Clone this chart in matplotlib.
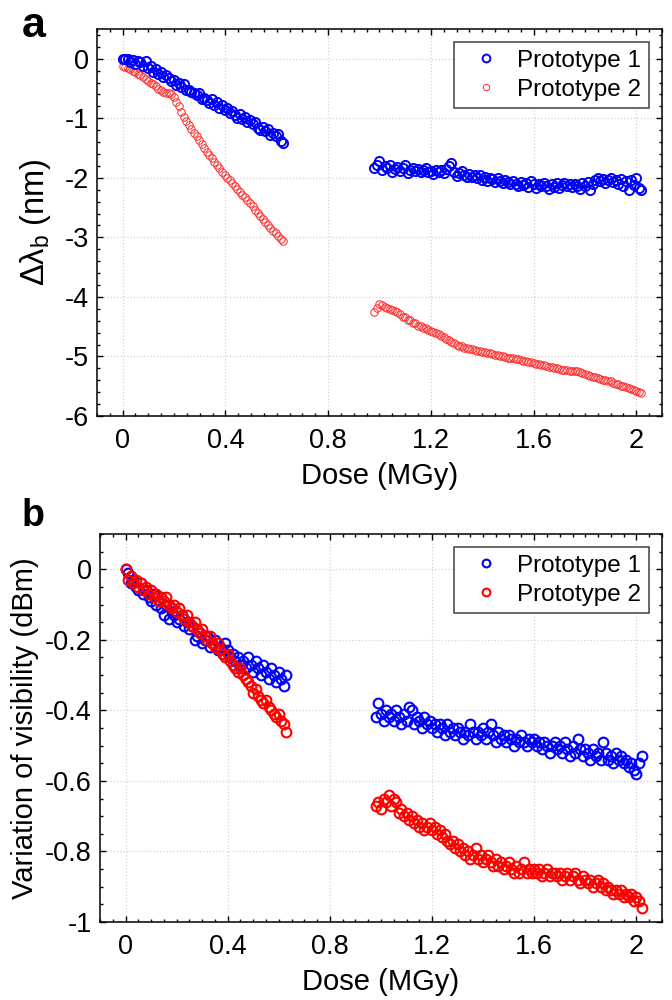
import numpy as np
import matplotlib
matplotlib.use("Agg")
import matplotlib.pyplot as plt
from matplotlib.ticker import MultipleLocator, FuncFormatter

plt.rcParams['font.family'] = ['Liberation Sans', 'DejaVu Sans']
plt.rcParams['axes.unicode_minus'] = False
plt.rcParams['mathtext.fontset'] = 'custom'
plt.rcParams['mathtext.rm'] = 'Liberation Sans'
plt.rcParams['mathtext.it'] = 'Liberation Sans'

# dose sampling (MGy): first campaign and second campaign
dose_early_a = np.linspace(0, 0.625, 64)
dose_early_b = np.linspace(0, 0.63, 64)
dose_late = np.linspace(0.98, 2.02, 105)

# panel a: Bragg wavelength shift (nm)
shift_p1_early = [0.00, -0.01, 0.00, -0.05, -0.02, -0.08, -0.03, -0.06, -0.12, -0.04,
                  -0.16, -0.12, -0.22, -0.18, -0.26, -0.22, -0.30, -0.27, -0.32, -0.38,
                  -0.36, -0.44, -0.40, -0.47, -0.43, -0.52, -0.53, -0.55, -0.58, -0.61,
                  -0.58, -0.67, -0.66, -0.70, -0.74, -0.68, -0.77, -0.72, -0.82, -0.78,
                  -0.86, -0.83, -0.91, -0.88, -0.95, -0.99, -0.93, -1.02, -0.98, -1.06,
                  -1.03, -1.10, -1.07, -1.16, -1.20, -1.15, -1.22, -1.18, -1.28, -1.24,
                  -1.30, -1.27, -1.38, -1.42]
shift_p2_early = [-0.12, -0.14, -0.15, -0.18, -0.20, -0.23, -0.26, -0.28, -0.31, -0.34,
                  -0.37, -0.40, -0.43, -0.46, -0.50, -0.53, -0.56, -0.57, -0.58, -0.60,
                  -0.65, -0.72, -0.80, -0.89, -0.98, -1.05, -1.11, -1.18, -1.24, -1.30,
                  -1.36, -1.43, -1.50, -1.56, -1.62, -1.67, -1.73, -1.79, -1.84, -1.90,
                  -1.95, -2.00, -2.04, -2.09, -2.14, -2.18, -2.23, -2.28, -2.33, -2.38,
                  -2.43, -2.48, -2.54, -2.59, -2.64, -2.69, -2.74, -2.79, -2.84, -2.89,
                  -2.93, -2.98, -3.03, -3.06]
shift_p1_late = [-1.84, -1.78, -1.72, -1.86, -1.80, -1.83, -1.78, -1.90, -1.85, -1.81,
                 -1.88, -1.84, -1.79, -1.92, -1.86, -1.83, -1.89, -1.85, -1.91, -1.87,
                 -1.84, -1.90, -1.88, -1.93, -1.86, -1.90, -1.87, -1.92, -1.85, -1.80,
                 -1.75, -1.90, -1.97, -1.92, -1.88, -1.95, -1.99, -1.93, -1.98, -1.95,
                 -2.01, -1.96, -2.03, -1.98, -2.05, -2.00, -2.02, -2.07, -2.01, -2.05,
                 -2.09, -2.03, -2.07, -2.11, -2.05, -2.10, -2.14, -2.07, -2.12, -2.09,
                 -2.15, -2.06, -2.11, -2.17, -2.10, -2.14, -2.08, -2.13, -2.18, -2.11,
                 -2.15, -2.09, -2.17, -2.12, -2.08, -2.14, -2.11, -2.16, -2.10, -2.13,
                 -2.19, -2.09, -2.14, -2.07, -2.20, -2.11, -2.04, -2.00, -2.06, -2.02,
                 -2.08, -2.04, -2.01, -2.07, -2.03, -2.10, -2.02, -2.14, -2.05, -2.20,
                 -2.03, -2.12, -2.01, -2.17, -2.21]
shift_p2_late = [-4.25, -4.18, -4.12, -4.14, -4.17, -4.18, -4.20, -4.22, -4.24, -4.26,
                 -4.29, -4.33, -4.34, -4.38, -4.39, -4.44, -4.44, -4.48, -4.48, -4.52,
                 -4.53, -4.55, -4.57, -4.59, -4.61, -4.63, -4.66, -4.68, -4.70, -4.73,
                 -4.76, -4.78, -4.80, -4.82, -4.83, -4.85, -4.86, -4.87, -4.88, -4.89,
                 -4.90, -4.91, -4.92, -4.93, -4.94, -4.95, -4.96, -4.97, -4.98, -4.99,
                 -5.00, -5.01, -5.02, -5.02, -5.03, -5.04, -5.05, -5.06, -5.07, -5.08,
                 -5.09, -5.10, -5.11, -5.12, -5.13, -5.14, -5.15, -5.16, -5.17, -5.18,
                 -5.19, -5.20, -5.21, -5.22, -5.23, -5.23, -5.24, -5.24, -5.25, -5.25,
                 -5.26, -5.28, -5.30, -5.31, -5.33, -5.34, -5.35, -5.36, -5.38, -5.39,
                 -5.40, -5.41, -5.42, -5.44, -5.46, -5.47, -5.49, -5.50, -5.52, -5.53,
                 -5.55, -5.56, -5.58, -5.59, -5.61]

# panel b: variation of visibility (dBm)
vis_p1_early = [0.00, -0.01, -0.04, -0.03, -0.05, -0.06, -0.04, -0.07, -0.06, -0.08,
                -0.09, -0.07, -0.10, -0.09, -0.11, -0.13, -0.10, -0.14, -0.12, -0.13,
                -0.15, -0.14, -0.13, -0.16, -0.15, -0.17, -0.16, -0.20, -0.19, -0.18,
                -0.21, -0.20, -0.19, -0.22, -0.21, -0.20, -0.23, -0.22, -0.24, -0.21,
                -0.23, -0.25, -0.24, -0.26, -0.25, -0.27, -0.26, -0.28, -0.25, -0.27,
                -0.29, -0.26, -0.28, -0.30, -0.27, -0.29, -0.31, -0.28, -0.30, -0.32,
                -0.29, -0.31, -0.33, -0.30]
vis_p2_early = [0.00, -0.03, -0.02, -0.04, -0.03, -0.05, -0.04, -0.06, -0.05, -0.07,
                -0.06, -0.08, -0.07, -0.09, -0.08, -0.09, -0.08, -0.10, -0.11, -0.10,
                -0.12, -0.11, -0.13, -0.14, -0.13, -0.15, -0.16, -0.15, -0.17, -0.18,
                -0.17, -0.19, -0.20, -0.19, -0.21, -0.22, -0.21, -0.23, -0.24, -0.25,
                -0.24, -0.26, -0.27, -0.28, -0.29, -0.28, -0.30, -0.31, -0.32, -0.33,
                -0.35, -0.34, -0.36, -0.37, -0.38, -0.37, -0.39, -0.40, -0.41, -0.42,
                -0.41, -0.43, -0.44, -0.46]
vis_p1_late = [-0.42, -0.38, -0.41, -0.43, -0.40, -0.42, -0.41, -0.43, -0.40, -0.42,
               -0.44, -0.41, -0.43, -0.39, -0.40, -0.44, -0.42, -0.43, -0.45, -0.42,
               -0.44, -0.43, -0.45, -0.44, -0.46, -0.44, -0.45, -0.47, -0.44, -0.46,
               -0.45, -0.47, -0.45, -0.46, -0.48, -0.46, -0.47, -0.44, -0.46, -0.48,
               -0.46, -0.47, -0.45, -0.48, -0.46, -0.44, -0.47, -0.49, -0.46, -0.48,
               -0.47, -0.49, -0.47, -0.48, -0.50, -0.48, -0.49, -0.47, -0.49, -0.50,
               -0.48, -0.49, -0.48, -0.50, -0.49, -0.51, -0.49, -0.50, -0.52, -0.50,
               -0.49, -0.51, -0.50, -0.52, -0.49, -0.51, -0.53, -0.50, -0.52, -0.48,
               -0.51, -0.53, -0.51, -0.52, -0.54, -0.51, -0.53, -0.52, -0.54, -0.49,
               -0.52, -0.54, -0.53, -0.55, -0.52, -0.54, -0.53, -0.55, -0.54, -0.56,
               -0.55, -0.57, -0.58, -0.55, -0.53]
vis_p2_late = [-0.67, -0.66, -0.68, -0.65, -0.66, -0.64, -0.67, -0.65, -0.66, -0.69,
               -0.68, -0.70, -0.69, -0.71, -0.70, -0.72, -0.71, -0.73, -0.72, -0.74,
               -0.73, -0.72, -0.74, -0.73, -0.75, -0.74, -0.76, -0.75, -0.77, -0.78,
               -0.77, -0.79, -0.78, -0.80, -0.79, -0.81, -0.80, -0.82, -0.81, -0.79,
               -0.82, -0.81, -0.83, -0.82, -0.81, -0.83, -0.84, -0.82, -0.84, -0.83,
               -0.85, -0.84, -0.83, -0.85, -0.86, -0.84, -0.86, -0.85, -0.83, -0.86,
               -0.85, -0.86, -0.85, -0.86, -0.85, -0.87, -0.86, -0.85, -0.87, -0.86,
               -0.86, -0.87, -0.86, -0.88, -0.87, -0.86, -0.88, -0.87, -0.86, -0.88,
               -0.89, -0.87, -0.88, -0.89, -0.88, -0.90, -0.89, -0.88, -0.90, -0.89,
               -0.91, -0.90, -0.91, -0.92, -0.91, -0.92, -0.91, -0.93, -0.92, -0.93,
               -0.92, -0.94, -0.93, -0.94, -0.96]

labels = ['Prototype 1', 'Prototype 2']
blue = '#0000ff'
red_a = '#ff2a2a'
red_b = '#ff0000'


def tick_fmt(v, pos):
    v = round(v, 6)
    if v == 0:
        return '0'
    return '%g' % v


def style_axes(ax, ylim, ymajor, yminor, ylabel, ylab_x, ylab_size):
    ax.set_xlim(-0.1, 2.1)
    ax.set_ylim(*ylim)
    ax.xaxis.set_major_locator(MultipleLocator(0.4))
    ax.xaxis.set_minor_locator(MultipleLocator(0.05))
    ax.yaxis.set_major_locator(MultipleLocator(ymajor))
    ax.yaxis.set_minor_locator(MultipleLocator(yminor))
    ax.xaxis.set_major_formatter(FuncFormatter(tick_fmt))
    ax.yaxis.set_major_formatter(FuncFormatter(tick_fmt))
    ax.tick_params(which='both', direction='in', top=True, right=True, width=1.0)
    ax.tick_params(which='major', length=4.5, labelsize=19.5)
    ax.tick_params(which='minor', length=2.5)
    ax.tick_params(axis='x', pad=9)
    ax.tick_params(axis='y', pad=6)
    for s in ax.spines.values():
        s.set_linewidth(1.1)
    ax.grid(True, which='major', linestyle=':', color='#d4d4d4', linewidth=0.9)
    ax.set_axisbelow(True)
    ax.set_xlabel('Dose (MGy)', fontsize=21)
    ax.xaxis.set_label_coords(0.5, -0.118)
    ax.set_ylabel(ylabel, fontsize=ylab_size)
    ax.yaxis.set_label_coords(ylab_x, 0.5)


fig = plt.figure(figsize=(6.72, 10), dpi=100)

# ---- panel a
ax1 = fig.add_axes([0.1443, 0.584, 0.8408, 0.387])
h2, = ax1.plot(dose_early_a, shift_p2_early, 'o', mfc='none', mec=red_a, ms=5.4, mew=0.7)
ax1.plot(dose_late, shift_p2_late, 'o', mfc='none', mec=red_a, ms=5.4, mew=0.7)
h1, = ax1.plot(dose_early_a, shift_p1_early, 'o', mfc='none', mec=blue, ms=6.6, mew=1.4)
ax1.plot(dose_late, shift_p1_late, 'o', mfc='none', mec=blue, ms=6.6, mew=1.4)
style_axes(ax1, (-6, 0.5), 1, 0.2, r'$\Delta\lambda_{\rm b}$ (nm)', -0.078, 23.5)
leg = ax1.legend([h1, h2], labels, loc='upper right', fontsize=17.5, frameon=True,
                 fancybox=False, edgecolor='#404040', framealpha=1, borderaxespad=0.55,
                 handletextpad=0.3, markerscale=0.85, borderpad=0.3, labelspacing=0.3)
leg.get_frame().set_linewidth(1.1)

# ---- panel b
ax2 = fig.add_axes([0.1488, 0.078, 0.8363, 0.388])
h1b, = ax2.plot(dose_early_b, vis_p1_early, 'o', mfc='none', mec=blue, ms=7.0, mew=1.5)
ax2.plot(dose_late, vis_p1_late, 'o', mfc='none', mec=blue, ms=7.0, mew=1.5)
h2b, = ax2.plot(dose_early_b, vis_p2_early, 'o', mfc='none', mec=red_b, ms=7.0, mew=1.5)
ax2.plot(dose_late, vis_p2_late, 'o', mfc='none', mec=red_b, ms=7.0, mew=1.5)
style_axes(ax2, (-1, 0.1), 0.2, 0.05, 'Variation of visibility (dBm)', -0.108, 21)
leg = ax2.legend([h1b, h2b], labels, loc='upper right', fontsize=17.5, frameon=True,
                 fancybox=False, edgecolor='#404040', framealpha=1, borderaxespad=0.55,
                 handletextpad=0.3, markerscale=0.8, borderpad=0.3, labelspacing=0.3)
leg.get_frame().set_linewidth(1.1)

fig.text(22 / 672, 1 - 37 / 1000, 'a', fontsize=31, fontweight='bold', va='baseline')
fig.text(22 / 672, 1 - 526 / 1000, 'b', fontsize=27, fontweight='bold', va='baseline')

fig.savefig('out.png', dpi=100)
